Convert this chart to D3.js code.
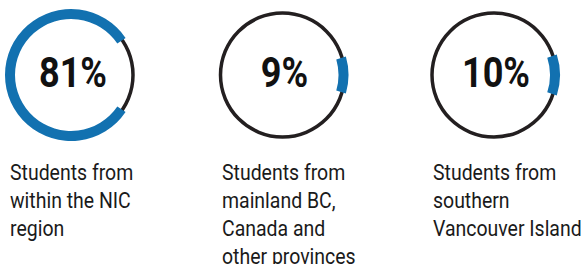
<!DOCTYPE html>
<html lang="en">
	<head>
		<meta charset="utf-8">
		<title>Student origin rings</title>
		<script type="text/javascript" src="https://cdn.jsdelivr.net/npm/d3@7/dist/d3.min.js"></script>
		<style type="text/css">
			body { margin: 0; background: #fff; }
		</style>
	</head>
	<body>
		<script type="text/javascript">

			//Data
			var categories = ["NIC region", "Mainland BC / Canada", "Southern Vancouver Island"];
			var values = [81, 9, 10];
			var labels = [
				["Students from", "within the NIC", "region"],
				["Students from", "mainland BC,", "Canada and", "other provinces"],
				["Students from", "southern", "Vancouver Island"]
			];

			//Width and height
			var w = 582;
			var h = 264;
			var blue = "#1271b0";
			var dark = "#231f20";
			var font = "Roboto, sans-serif";

			var svg = d3.select("body")
						.append("svg")
						.attr("width", w)
						.attr("height", h);

			//Column positions
			var x = d3.scalePoint()
						.domain(categories)
						.range([71, 494]);
			var textX = [10, 222, 433];

			var cy = 75;
			var ringR = 62;

			var ring = d3.arc()
						.innerRadius(ringR - 1.75)
						.outerRadius(ringR + 1.75)
						.startAngle(0)
						.endAngle(2 * Math.PI);

			//the smaller part is always centred at 3 o'clock
			var blueArc = d3.arc()
						.innerRadius(ringR - 6)
						.outerRadius(ringR + 4)
						.startAngle(function(d) {
							var a = d / 100 * 2 * Math.PI;
							return d < 50 ? Math.PI / 2 - a / 2 : Math.PI / 2 + (2 * Math.PI - a) / 2;
						})
						.endAngle(function(d) {
							var a = d / 100 * 2 * Math.PI;
							return d < 50 ? Math.PI / 2 + a / 2 : Math.PI / 2 + (2 * Math.PI - a) / 2 + a;
						});

			var g = svg.selectAll("g.item")
					   .data(values)
					   .enter()
					   .append("g")
					   .attr("class", "item");

			g.append("path")
			 .attr("transform", function(d, i) { return "translate(" + x(categories[i]) + "," + cy + ")"; })
			 .attr("d", ring)
			 .style("fill", dark);

			g.append("path")
			 .attr("transform", function(d, i) { return "translate(" + x(categories[i]) + "," + cy + ")"; })
			 .attr("d", blueArc)
			 .style("fill", blue);

			// condensed look: squeeze horizontally
			g.append("text")
			 .attr("transform", function(d, i) { return "translate(" + (x(categories[i]) + 2) + "," + (cy + 12) + ") scale(0.84,1)"; })
			 .attr("text-anchor", "middle")
			 .style("font-family", font)
			 .style("font-weight", "bold")
			 .style("font-size", "43px")
			 .style("fill", "#111")
			 .text(function(d) { return d + "%"; });

			//Labels
			g.append("text")
			 .attr("transform", function(d, i) { return "translate(" + textX[i] + ",0) scale(0.905,1)"; })
			 .style("font-family", font)
			 .style("font-size", "21.5px")
			 .style("fill", "#1a1a1a")
			 .selectAll("tspan")
			 .data(function(d, i) { return labels[i]; })
			 .enter()
			 .append("tspan")
			 .attr("x", 0)
			 .attr("y", function(d, j) { return 180 + j * 28; })
			 .text(function(d) { return d; });

		</script>
	</body>
</html>
